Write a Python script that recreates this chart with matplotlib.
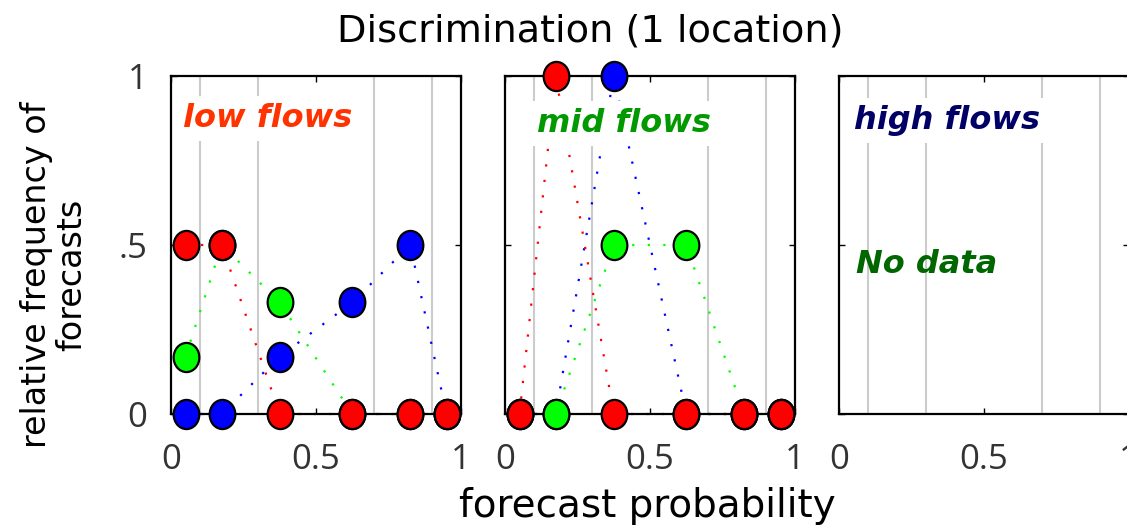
import numpy as np
import matplotlib
matplotlib.use("Agg")
import matplotlib.pyplot as plt
from matplotlib.path import Path

# forecast probability bins (x) and the grid lines between them
prob_bins = [0.05, 0.175, 0.375, 0.625, 0.825, 0.95]
grid_x = [0.1, 0.3, 0.7, 0.9]

# relative frequency of forecasts, low flows panel
low_red = [0.5, 0.5, 0, 0, 0, 0]
low_green = [0.17, 0.5, 0.33, 0, 0, 0]
low_blue = [0, 0, 0.17, 0.33, 0.5, 0]

# mid flows panel
mid_red = [0, 1, 0, 0, 0, 0]
mid_green = [0, 0, 0.5, 0.5, 0, 0]
mid_blue = [0, 0, 1, 0, 0, 0]

x_ticks = [0, 0.5, 1]
x_ticklabels = ['0', '0.5', '1']
y_ticks = [0, 0.5, 1]
y_ticklabels = ['0', '.5', '1']

W, H = 1127, 529
fig = plt.figure(figsize=(W / 100, H / 100), dpi=100)

# slightly tall ellipse marker
circ = Path.unit_circle()
ellipse = Path(circ.vertices * [0.88, 1.0], circ.codes)

tick_font = dict(family='Open Sans', size=25, color='#333333')


def make_panel(left):
    ax = fig.add_axes([left / W, (H - 414) / H, 290 / W, 338 / H])
    ax.set_xlim(0, 1)
    ax.set_ylim(0, 1)
    for g in grid_x:
        ax.axvline(g, color='#cccccc', lw=1.5, zorder=0)
    for s in ax.spines.values():
        s.set_linewidth(1.6)
    ax.tick_params(direction='in', length=4, width=1, top=True, right=True,
                   pad=21)
    ax.set_xticks(x_ticks)
    ax.set_xticklabels(x_ticklabels, fontdict=tick_font)
    ax.set_yticks(y_ticks)
    ax.set_yticklabels([])
    return ax


def draw_series(ax, values, color):
    ax.plot(prob_bins, values, color=color, lw=1.6, linestyle=(0, (1, 6)),
            zorder=2, clip_on=False)
    ax.plot(prob_bins, values, linestyle='none', marker=ellipse,
            markersize=21, markerfacecolor=color, markeredgecolor='black',
            markeredgewidth=1.6, zorder=6, clip_on=False)


ax1 = make_panel(171)
ax1.set_yticklabels(y_ticklabels, fontdict=tick_font)
ax1.tick_params(axis='y', pad=17)
draw_series(ax1, low_blue, '#0000ff')
draw_series(ax1, low_green, '#00ff00')
draw_series(ax1, low_red, '#ff0000')
ax1.text(0.04, 0.849, 'low flows', transform=ax1.transAxes, fontsize=23,
         fontweight='bold', fontstyle='italic', color='#ff3300', zorder=5,
         bbox=dict(facecolor='white', edgecolor='none', pad=5))

ax2 = make_panel(505)
draw_series(ax2, mid_blue, '#0000ff')
draw_series(ax2, mid_green, '#00ff00')
draw_series(ax2, mid_red, '#ff0000')
ax2.text(0.11, 0.834, 'mid flows', transform=ax2.transAxes, fontsize=23,
         fontweight='bold', fontstyle='italic', color='#009900', zorder=5,
         bbox=dict(facecolor='white', edgecolor='none', pad=5))

ax3 = make_panel(839)
ax3.text(0.05, 0.843, 'high flows', transform=ax3.transAxes, fontsize=23,
         fontweight='bold', fontstyle='italic', color='#000066', zorder=5,
         bbox=dict(facecolor='white', edgecolor='none', pad=5))
ax3.text(0.06, 0.418, 'No data', transform=ax3.transAxes, fontsize=23,
         fontweight='bold', fontstyle='italic', color='#006600', zorder=5)

fig.text(0.524, 0.94, 'Discrimination (1 location)', fontsize=27.5,
         ha='center', va='center')
fig.text(0.574, 0.043, 'forecast probability', fontsize=28,
         ha='center', va='center')
fig.text(0.048, 0.48, 'relative frequency of\nforecasts', fontsize=24,
         ha='center', va='center', rotation=90, multialignment='center',
         linespacing=1.1)

fig.savefig('out.png', dpi=100)
